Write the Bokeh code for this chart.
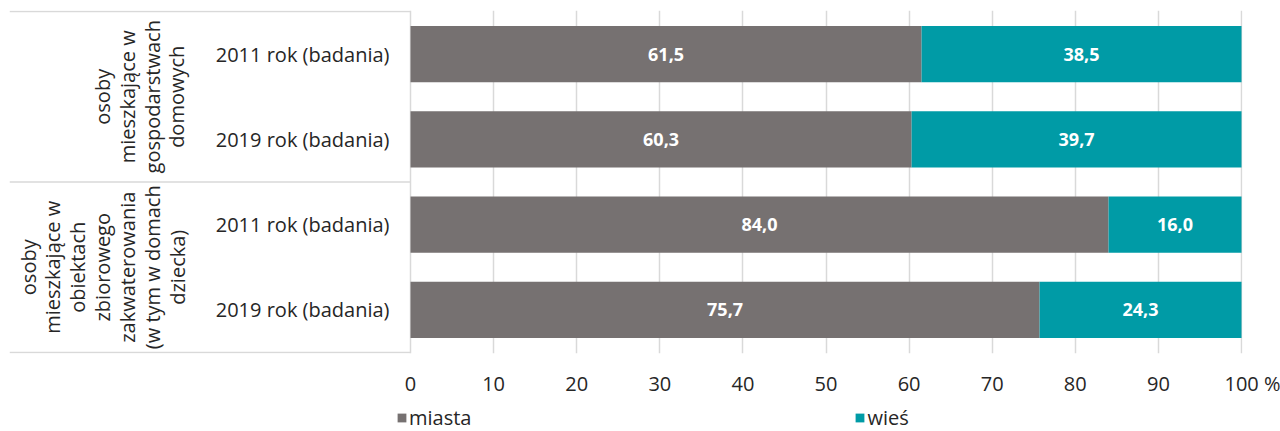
from bokeh.plotting import figure
from bokeh.layouts import column
from bokeh.models import Range1d, FixedTicker, Legend, LegendItem, ColumnDataSource
from bokeh.core.properties import value
from bokeh.embed import file_html
from bokeh.resources import INLINE

# ---- data ----
group_labels = [
    "osoby\nmieszkające w\ngospodarstwach\ndomowych",
    "osoby\nmieszkające w\nobiektach\nzbiorowego\nzakwaterowania\n(w tym w domach\ndziecka)",
]
categories = ["2011 rok (badania)", "2019 rok (badania)", "2011 rok (badania)", "2019 rok (badania)"]
category_group = [0, 0, 1, 1]
miasta = [61.5, 60.3, 84.0, 75.7]
wies = [38.5, 39.7, 16.0, 24.3]
series_names = ["miasta", "wieś"]
x_ticks = [0, 10, 20, 30, 40, 50, 60, 70, 80, 90, 100]
unit_label = "%"

# ---- styling ----
GRAY = "#767171"
TEAL = "#009BA6"
GRID = "#D9D9D9"
TXT = "#262626"
FONT = "Open Sans"

n = len(categories)
ypos = [i + 0.5 for i in range(n)]
XMIN, XMAX = -48.26, 100.12

p = figure(width=1280, height=400, output_backend="svg", toolbar_location=None,
           x_range=Range1d(XMIN, XMAX), y_range=Range1d(n + 0.012, -0.012),
           min_border_left=9, min_border_right=38, min_border_top=10, min_border_bottom=47)
p.outline_line_color = None
p.yaxis.visible = False
p.ygrid.visible = False
p.xgrid.ticker = FixedTicker(ticks=x_ticks)
p.xgrid.grid_line_color = GRID
p.xgrid.grid_line_width = 1.5
p.xaxis.ticker = FixedTicker(ticks=x_ticks)
p.xaxis.axis_line_color = None
p.xaxis.major_tick_line_color = None
p.xaxis.minor_tick_line_color = None
p.xaxis.major_label_standoff = 10
p.xaxis.major_label_text_font = FONT
p.xaxis.major_label_text_font_size = "20px"
p.xaxis.major_label_text_color = TXT
# unit sign after the last tick (figure spaces in front keep "100" centred on its tick)
p.xaxis.major_label_overrides = {x_ticks[-1]: "\u2007\u2007" + str(x_ticks[-1]) + "\u00a0" + unit_label}

src = ColumnDataSource(dict(
    y=ypos, miasta=miasta, wies=wies,
    left2=miasta, right2=[a + b for a, b in zip(miasta, wies)],
    lab1=[f"{v:.1f}".replace(".", ",") for v in miasta],
    lab2=[f"{v:.1f}".replace(".", ",") for v in wies],
    x1=[v / 2 for v in miasta],
    x2=[a + b / 2 for a, b in zip(miasta, wies)],
    cat=categories,
))

r1 = p.hbar(y="y", left=0, right="miasta", height=0.66, source=src,
            fill_color=GRAY, line_color=None)
r2 = p.hbar(y="y", left="left2", right="right2", height=0.66, source=src,
            fill_color=TEAL, line_color=None)

for xcol, lcol in (("x1", "lab1"), ("x2", "lab2")):
    p.text(x=xcol, y="y", text=lcol, source=src, text_color="white",
           text_font=value(FONT), text_font_style="bold", text_font_size="18px",
           text_align="center", text_baseline="middle")

# category labels
p.text(x=-2.53, y="y", text="cat", source=src, text_color=TXT,
       text_font=value(FONT), text_font_size="20px",
       text_align="right", text_baseline="middle")

# table lines (top, group divider, bottom)
bounds = [0]
for g in range(len(group_labels)):
    bounds.append(bounds[-1] + category_group.count(g))
p.segment(x0=[XMIN] * len(bounds), x1=[0] * len(bounds), y0=bounds, y1=bounds,
          line_color=GRID, line_width=1.5)

# group labels (rotated)
gx = [-32.6, -37.06]
gy = [(bounds[i] + bounds[i + 1]) / 2 for i in range(len(group_labels))]
p.text(x=gx, y=gy, text=group_labels, angle=1.5708, text_color=TXT,
       text_font=value(FONT), text_font_size="20px", text_line_height=0.92,
       text_align="center", text_baseline="middle")

# legend strip (same data, drawn outside its visible range; only the legend shows)
lg = figure(width=1280, height=31, output_backend="svg", toolbar_location=None,
            x_range=Range1d(200, 201), y_range=Range1d(200, 201),
            min_border_left=0, min_border_right=0, min_border_top=0, min_border_bottom=0)
lg.outline_line_color = None
lg.axis.visible = False
lg.grid.visible = False
d1 = lg.hbar(y="y", left=0, right="miasta", height=0.66, source=src,
             fill_color=GRAY, line_color=None)
d2 = lg.hbar(y="y", left="left2", right="right2", height=0.66, source=src,
             fill_color=TEAL, line_color=None)
legend = Legend(items=[LegendItem(label=series_names[0], renderers=[d1]),
                       LegendItem(label=series_names[1], renderers=[d2])],
                orientation="horizontal", location=(387, 0),
                glyph_width=11, glyph_height=11, label_standoff=2, spacing=383,
                padding=0, margin=0, border_line_color=None, background_fill_alpha=0,
                label_text_font=FONT, label_text_font_size="20px", label_text_color=TXT)
lg.add_layout(legend)

layout = column(p, lg, spacing=0)
open("out.html", "w").write(file_html(layout, INLINE))
